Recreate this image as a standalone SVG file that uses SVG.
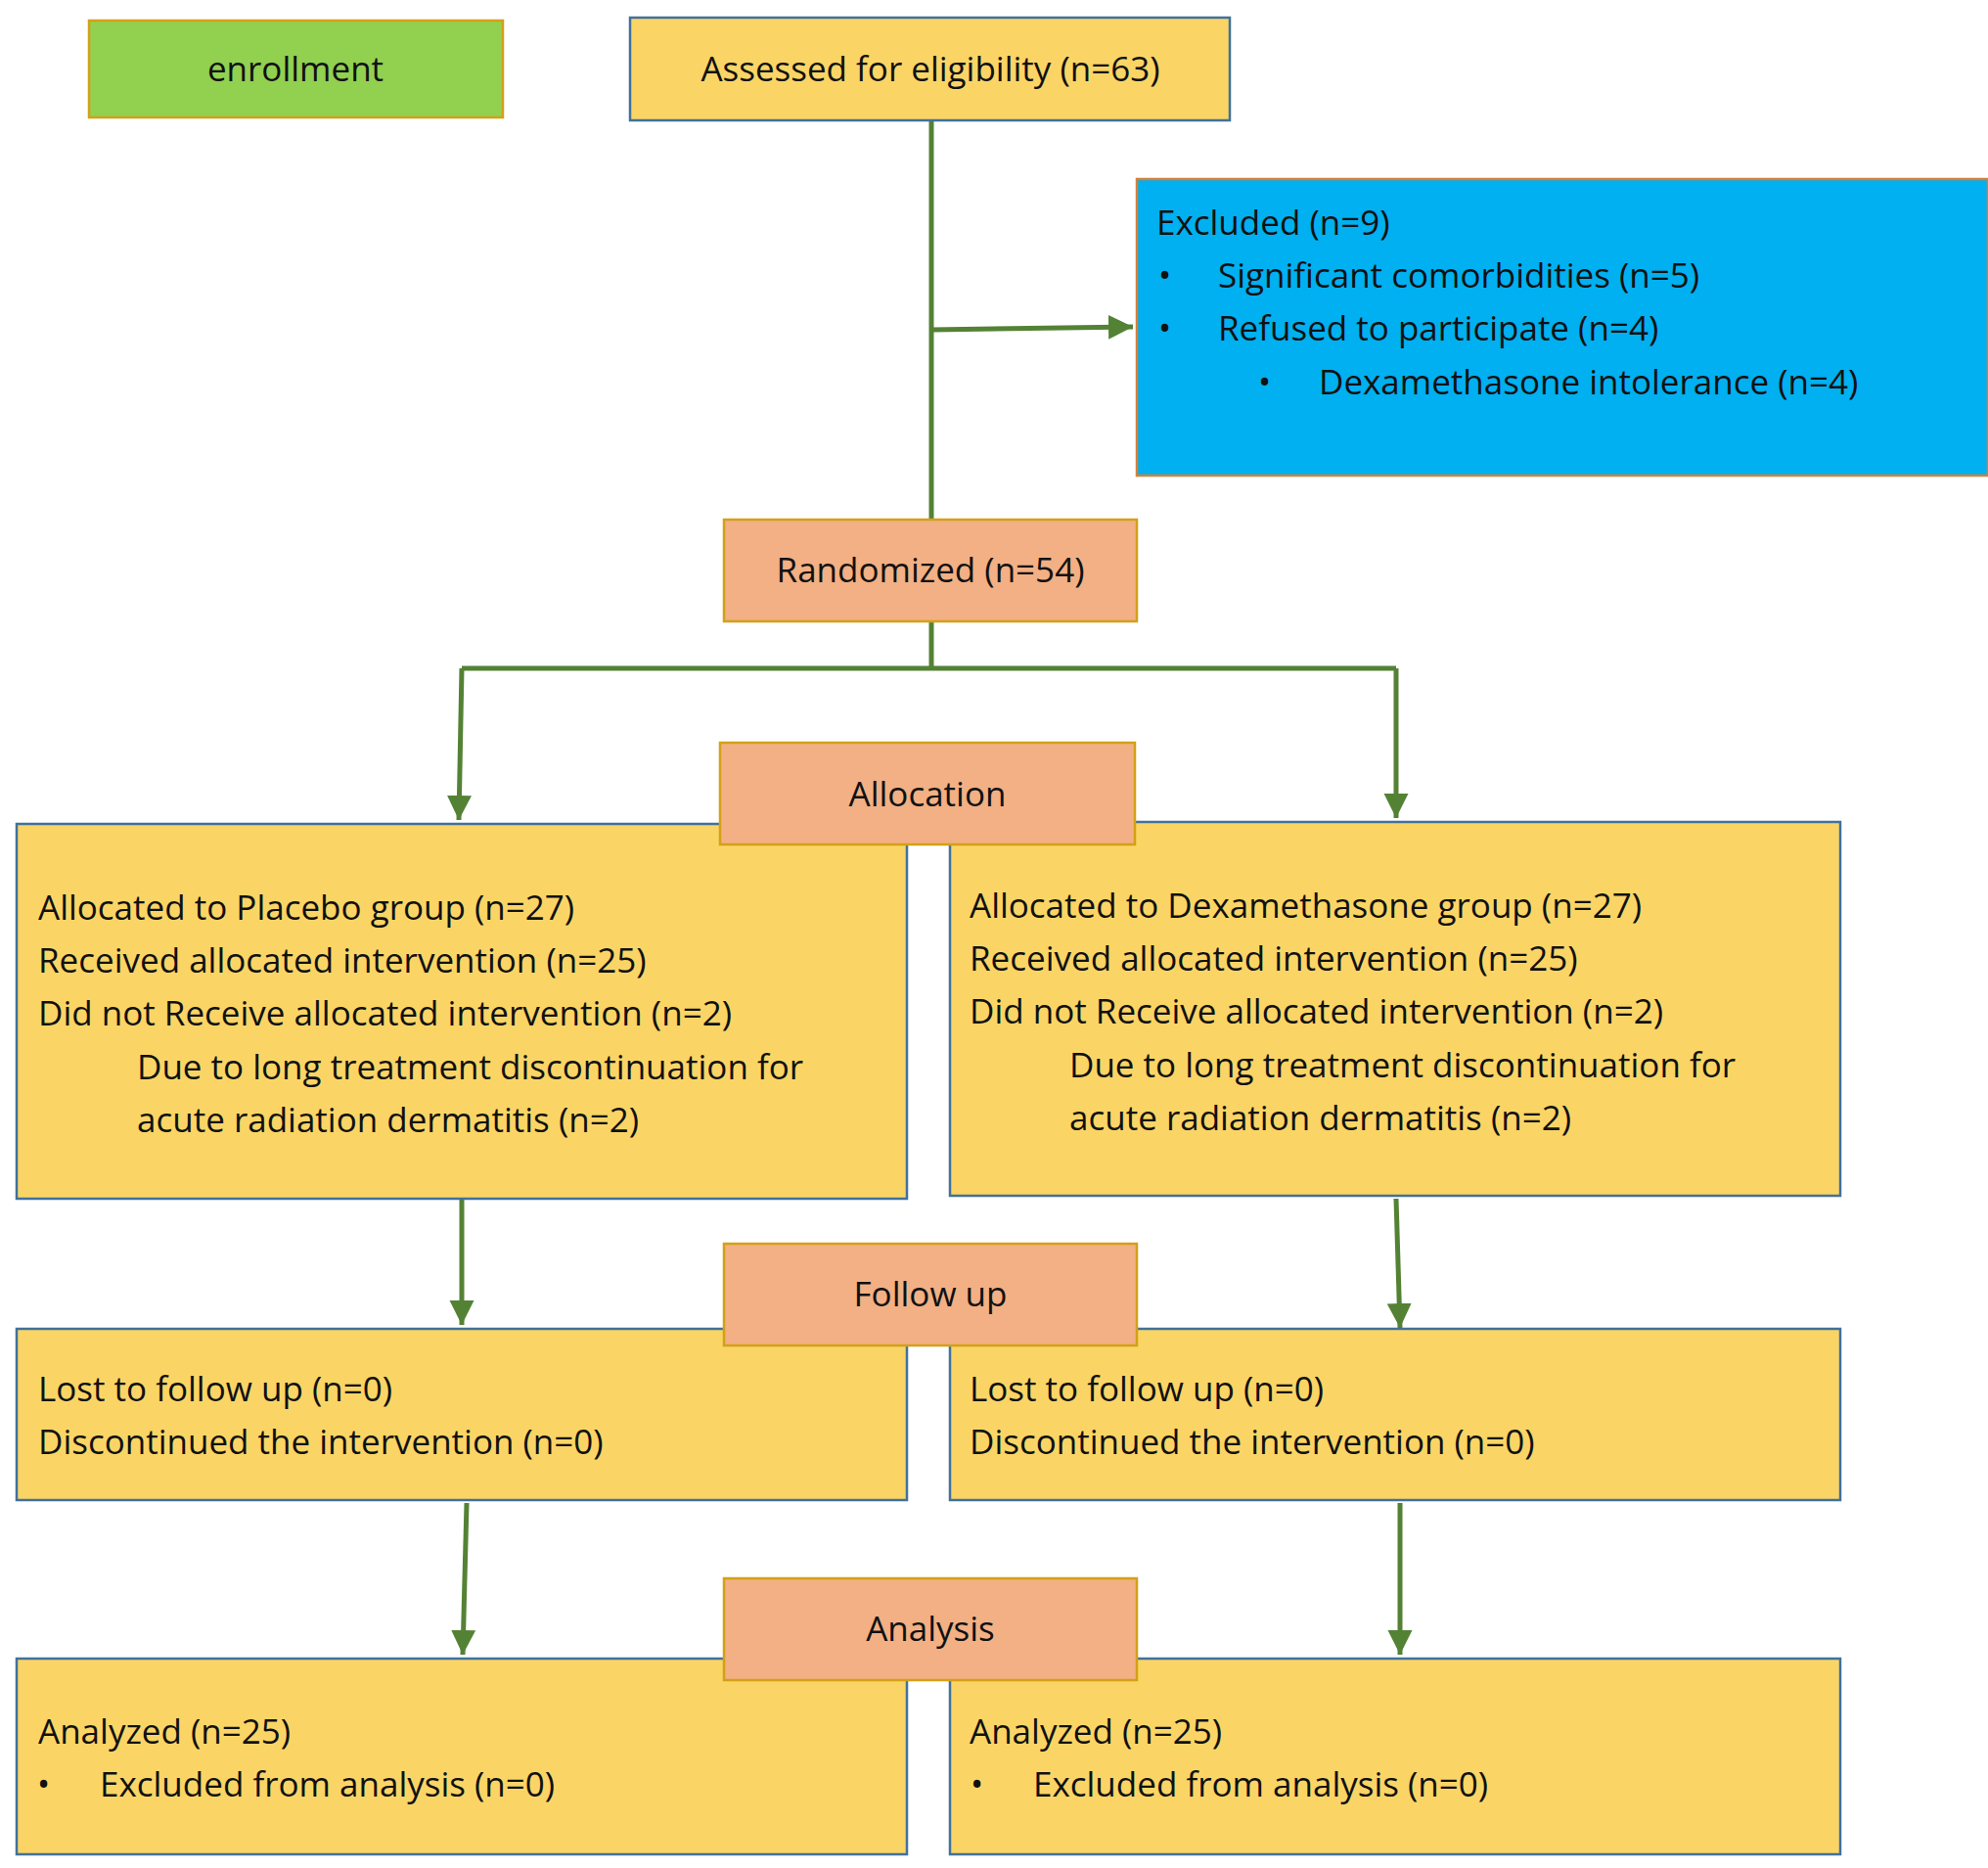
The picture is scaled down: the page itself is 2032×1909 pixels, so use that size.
<svg xmlns="http://www.w3.org/2000/svg" width="2032" height="1909" viewBox="0 0 2032 1909">
<style>
text{font-family:"Open Sans","Liberation Sans",sans-serif;font-size:35px;fill:#111}
.y{fill:#FAD566;stroke:#41719C;stroke-width:2.5}
.o{fill:#F2B084;stroke:#D4A017;stroke-width:2.5}
.c{text-anchor:middle}
.ln{stroke:#548235;stroke-width:5;fill:none}
</style>
<defs><marker id="a" markerWidth="6" markerHeight="6" refX="5" refY="3" orient="auto" markerUnits="strokeWidth"><path d="M0,0.5 L5,3 L0,5.5z" fill="#548235"/></marker></defs>
<rect width="2032" height="1909" fill="#fff"/>
<g id="connectors">
<path class="ln" d="M952,123 V531"/>
<path class="ln" d="M952,337 L1158,334" marker-end="url(#a)"/>
<path class="ln" d="M952,635 V683 M472,683 H1427"/>
<path class="ln" d="M472,683 L469,838" marker-end="url(#a)"/>
<path class="ln" d="M1427,683 V836" marker-end="url(#a)"/>
<path class="ln" d="M472,1225 V1354" marker-end="url(#a)"/>
<path class="ln" d="M1427,1225 L1431,1357" marker-end="url(#a)"/>
<path class="ln" d="M477,1536 L473,1691" marker-end="url(#a)"/>
<path class="ln" d="M1431,1536 V1691" marker-end="url(#a)"/>
</g>
<g id="enrollment"><rect x="91" y="21" width="423" height="99" fill="#92D050" stroke="#D4A017" stroke-width="2.5"/><text class="c" x="302" y="83">enrollment</text></g>
<g id="assessed"><rect class="y" x="644" y="18" width="613" height="105"/><text class="c" x="951" y="83">Assessed for eligibility (n=63)</text></g>
<g id="excluded"><rect x="1162" y="183" width="870" height="303" fill="#00B0F0" stroke="#D4803A" stroke-width="2.5"/>
<text x="1182" y="240">Excluded (n=9)</text>
<text x="1184" y="294">•</text><text x="1245" y="294">Significant comorbidities (n=5)</text>
<text x="1184" y="348">•</text><text x="1245" y="348">Refused to participate (n=4)</text>
<text x="1286" y="403">•</text><text x="1348" y="403">Dexamethasone intolerance (n=4)</text></g>
<g id="randomized"><rect class="o" x="740" y="531" width="422" height="104"/><text class="c" x="951" y="595">Randomized (n=54)</text></g>
<g id="alloc-left"><rect class="y" x="17" y="842" width="910" height="383"/>
<text x="39" y="940">Allocated to Placebo group (n=27)</text>
<text x="39" y="994">Received allocated intervention (n=25)</text>
<text x="39" y="1048">Did not Receive allocated intervention (n=2)</text>
<text x="140" y="1103">Due to long treatment discontinuation for</text>
<text x="140" y="1157">acute radiation dermatitis (n=2)</text></g>
<g id="alloc-right"><rect class="y" x="971" y="840" width="910" height="382"/>
<text x="991" y="938">Allocated to Dexamethasone group (n=27)</text>
<text x="991" y="992">Received allocated intervention (n=25)</text>
<text x="991" y="1046">Did not Receive allocated intervention (n=2)</text>
<text x="1093" y="1101">Due to long treatment discontinuation for</text>
<text x="1093" y="1155">acute radiation dermatitis (n=2)</text></g>
<g id="allocation"><rect class="o" x="736" y="759" width="424" height="104"/><text class="c" x="948" y="824">Allocation</text></g>
<g id="follow-left"><rect class="y" x="17" y="1358" width="910" height="175"/>
<text x="39" y="1432">Lost to follow up (n=0)</text><text x="39" y="1486">Discontinued the intervention (n=0)</text></g>
<g id="follow-right"><rect class="y" x="971" y="1358" width="910" height="175"/>
<text x="991" y="1432">Lost to follow up (n=0)</text><text x="991" y="1486">Discontinued the intervention (n=0)</text></g>
<g id="followup"><rect class="o" x="740" y="1271" width="422" height="104"/><text class="c" x="951" y="1335">Follow up</text></g>
<g id="analysis-left"><rect class="y" x="17" y="1695" width="910" height="200"/>
<text x="39" y="1782">Analyzed (n=25)</text><text x="38" y="1836">•</text><text x="102" y="1836">Excluded from analysis (n=0)</text></g>
<g id="analysis-right"><rect class="y" x="971" y="1695" width="910" height="200"/>
<text x="991" y="1782">Analyzed (n=25)</text><text x="992" y="1836">•</text><text x="1056" y="1836">Excluded from analysis (n=0)</text></g>
<g id="analysis"><rect class="o" x="740" y="1613" width="422" height="104"/><text class="c" x="951" y="1677">Analysis</text></g>
</svg>
